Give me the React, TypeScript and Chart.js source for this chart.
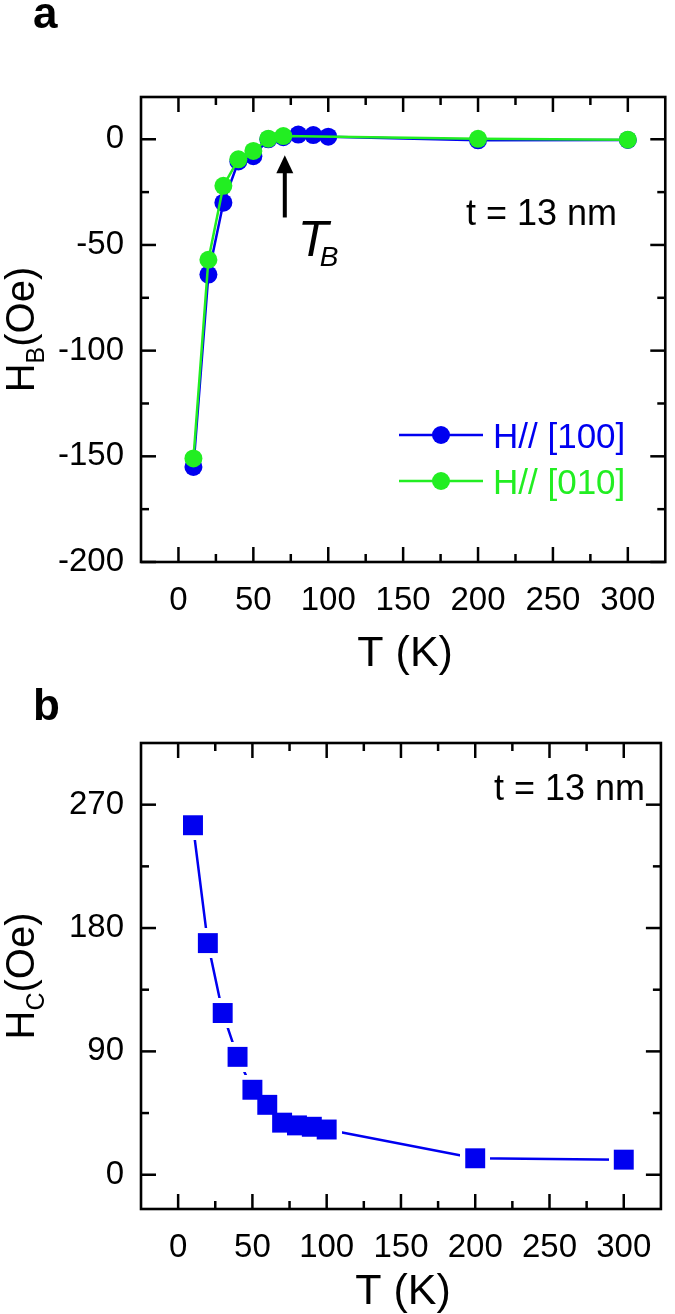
import React, { useEffect, useRef } from 'react';
import { Chart, registerables } from 'chart.js';

Chart.register(...registerables);

const FONT = "'Liberation Sans', Arial, Helvetica, sans-serif";
const BLUE = '#0000f0';
const GREEN = '#22ee22';

// ---------- Panel a data ----------
const seriesLabelsA = ['H// [100]', 'H// [010]'];
const tempA100 = [10, 20, 30, 40, 50, 60, 70, 80, 90, 100, 200, 300];
const hb100 = [-155, -64, -30, -10.5, -8, 0, 1, 2.2, 2, 1.2, -0.5, -0.3];
const tempA010 = [10, 20, 30, 40, 50, 60, 70, 200, 300];
const hb010 = [-151, -57, -22, -9.5, -5.5, 0.3, 1.5, 0.2, -0.2];

// ---------- Panel b data ----------
const tempB = [10, 20, 30, 40, 50, 60, 70, 80, 90, 100, 200, 300];
const hc = [255, 169, 118, 86, 62, 51, 38, 36, 35, 33, 12, 11];

// ---------- Tick values ----------
const tempTicks = [0, 50, 100, 150, 200, 250, 300];
const tempMinor = [25, 75, 125, 175, 225, 275];
const hbTicks = [-200, -150, -100, -50, 0];
const hbMinor = [-175, -125, -75, -25];
const hcTicks = [0, 90, 180, 270];
const hcMinor = [45, 135, 225];

// Annotation (blocking temperature arrow), in data units
const TB_T = 71;
const TB_ARROW_TOP = -7.5;
const TB_ARROW_BOTTOM = -37;

const W = 675;
const HA = 680;
const HB = 634;

function framePlugin(xMajor: number[], xMinor: number[], yMajor: number[], yMinor: number[]) {
  return {
    id: 'frame',
    afterDraw(chart: any) {
      const { ctx, chartArea: a, scales } = chart;
      const xs = scales.x;
      const ys = scales.y;
      ctx.save();
      ctx.strokeStyle = '#000';
      ctx.lineWidth = 2.5;
      ctx.lineCap = 'butt';
      const seg = (x1: number, y1: number, x2: number, y2: number) => {
        ctx.beginPath();
        ctx.moveTo(x1, y1);
        ctx.lineTo(x2, y2);
        ctx.stroke();
      };
      const xt = (vals: number[], len: number) =>
        vals.forEach((v) => {
          const p = xs.getPixelForValue(v);
          seg(p, a.bottom, p, a.bottom - len);
          seg(p, a.top, p, a.top + len);
        });
      const yt = (vals: number[], len: number) =>
        vals.forEach((v) => {
          const p = ys.getPixelForValue(v);
          seg(a.left, p, a.left + len, p);
          seg(a.right, p, a.right - len, p);
        });
      xt(xMajor, 15);
      xt(xMinor, 8);
      yt(yMajor, 15);
      yt(yMinor, 8);
      ctx.lineWidth = 2.6;
      ctx.strokeRect(a.left, a.top, a.right - a.left, a.bottom - a.top);
      ctx.restore();
    },
  };
}

function drawYTitle(ctx: any, main: string, sub: string, rest: string, cx: number, cy: number, size: number) {
  ctx.save();
  ctx.translate(cx, cy);
  ctx.rotate(-Math.PI / 2);
  ctx.fillStyle = '#000';
  ctx.textBaseline = 'alphabetic';
  ctx.textAlign = 'left';
  const f = `${size}px ${FONT}`;
  const fs = `${Math.round(size * 0.62)}px ${FONT}`;
  ctx.font = f;
  const w1 = ctx.measureText(main).width;
  const w3 = ctx.measureText(rest).width;
  ctx.font = fs;
  const w2 = ctx.measureText(sub).width;
  let x = -(w1 + w2 + w3) / 2;
  ctx.font = f;
  ctx.fillText(main, x, 0);
  x += w1;
  ctx.font = fs;
  ctx.fillText(sub, x, size * 0.24);
  x += w2;
  ctx.font = f;
  ctx.fillText(rest, x, 0);
  ctx.restore();
}

function text(ctx: any, s: string, x: number, y: number, font: string, color = '#000', align = 'left') {
  ctx.save();
  ctx.font = font;
  ctx.fillStyle = color;
  ctx.textAlign = align;
  ctx.textBaseline = 'alphabetic';
  ctx.fillText(s, x, y);
  ctx.restore();
}

const decorA = {
  id: 'decorA',
  afterDraw(chart: any) {
    const { ctx, chartArea: a, scales } = chart;
    text(ctx, 'a', 33, 28, `bold 44px ${FONT}`);
    drawYTitle(ctx, 'H', 'B', '(Oe)', 34, (a.top + a.bottom) / 2, 40);
    text(ctx, 'T (K)', (a.left + a.right) / 2 + 2, 666, `43px ${FONT}`, '#000', 'center');
    text(ctx, 't = 13 nm', 466, 225, `36px ${FONT}`);
    // legend
    chart.data.datasets.forEach((ds: any, i: number) => {
      const y = 435 + i * 46;
      ctx.save();
      ctx.strokeStyle = ds.borderColor;
      ctx.lineWidth = 2.5;
      ctx.beginPath();
      ctx.moveTo(399, y);
      ctx.lineTo(483, y);
      ctx.stroke();
      ctx.fillStyle = ds.borderColor;
      ctx.beginPath();
      ctx.arc(441, y, 9, 0, Math.PI * 2);
      ctx.fill();
      ctx.restore();
      text(ctx, ds.label, 493, y + 13, `35px ${FONT}`, ds.borderColor);
    });
    // T_B arrow
    const ax = scales.x.getPixelForValue(TB_T);
    const yTip = scales.y.getPixelForValue(TB_ARROW_TOP);
    const yBot = scales.y.getPixelForValue(TB_ARROW_BOTTOM);
    ctx.save();
    ctx.fillStyle = '#000';
    ctx.fillRect(ax - 2, yTip + 15, 4, yBot - yTip - 15);
    ctx.beginPath();
    ctx.moveTo(ax, yTip);
    ctx.lineTo(ax - 8.5, yTip + 18);
    ctx.lineTo(ax + 8.5, yTip + 18);
    ctx.closePath();
    ctx.fill();
    ctx.restore();
    text(ctx, 'T', ax + 13, yBot + 39, `italic 50px ${FONT}`);
    text(ctx, 'B', ax + 35, yBot + 49, `italic 28px ${FONT}`);
  },
};

const decorB = {
  id: 'decorB',
  afterDraw(chart: any) {
    const { ctx, chartArea: a } = chart;
    text(ctx, 'b', 33, 40, `bold 44px ${FONT}`);
    drawYTitle(ctx, 'H', 'C', '(Oe)', 34, (a.top + a.bottom) / 2, 40);
    text(ctx, 'T (K)', (a.left + a.right) / 2 + 2, 624, `43px ${FONT}`, '#000', 'center');
    text(ctx, 't = 13 nm', 494, 120, `36px ${FONT}`);
  },
};

const gapPlugin = {
  id: 'gap',
  afterDatasetDraw(chart: any, args: any) {
    if (args.index !== 0) return;
    const h = 15;
    args.meta.data.forEach((pt: any) => chart.ctx.clearRect(pt.x - h, pt.y - h, 2 * h, 2 * h));
  },
};

function axisX(height: number) {
  return {
    type: 'linear',
    min: -25,
    max: 325,
    afterBuildTicks: (s: any) => {
      s.ticks = tempTicks.map((v) => ({ value: v }));
    },
    afterFit: (s: any) => {
      s.height = height;
    },
    grid: { display: false, drawTicks: false },
    border: { display: false },
    ticks: {
      font: { family: FONT, size: 33 },
      color: '#000',
      padding: 19,
      maxRotation: 0,
      autoSkip: false,
      callback: (v: any) => String(v),
    },
  };
}

function axisY(min: number, max: number, ticks: number[]) {
  return {
    type: 'linear',
    min,
    max,
    afterBuildTicks: (s: any) => {
      s.ticks = ticks.map((v) => ({ value: v }));
    },
    afterFit: (s: any) => {
      s.width = 141;
    },
    grid: { display: false, drawTicks: false },
    border: { display: false },
    ticks: {
      font: { family: FONT, size: 33 },
      color: '#000',
      padding: 17,
      autoSkip: false,
      callback: (v: any) => String(v),
    },
  };
}

function configA(): any {
  return {
    type: 'line',
    data: {
      datasets: [
        {
          label: seriesLabelsA[0],
          data: tempA100.map((t, i) => ({ x: t, y: hb100[i] })),
          borderColor: BLUE,
          backgroundColor: BLUE,
          pointBackgroundColor: BLUE,
          pointBorderWidth: 0,
          pointRadius: 9,
          borderWidth: 2.5,
          order: 1,
        },
        {
          label: seriesLabelsA[1],
          data: tempA010.map((t, i) => ({ x: t, y: hb010[i] })),
          borderColor: GREEN,
          backgroundColor: GREEN,
          pointBackgroundColor: GREEN,
          pointBorderWidth: 0,
          pointRadius: 9,
          borderWidth: 2.5,
          order: 0,
        },
      ],
    },
    options: {
      responsive: false,
      devicePixelRatio: 1,
      animation: false,
      layout: { padding: { top: 97, right: 4, left: 0, bottom: 0 } },
      plugins: { legend: { display: false }, tooltip: { enabled: false } },
      scales: { x: axisX(HA - 562), y: axisY(-200, 20, hbTicks) },
    },
    plugins: [framePlugin(tempTicks, tempMinor, hbTicks, hbMinor), decorA],
  };
}

function configB(): any {
  const pts = tempB.map((t, i) => ({ x: t, y: hc[i] }));
  return {
    type: 'line',
    data: {
      datasets: [
        {
          label: 'line',
          data: pts,
          borderColor: BLUE,
          borderWidth: 2.5,
          pointRadius: 0,
          order: 2,
        },
        {
          label: 'Hc',
          data: pts,
          showLine: false,
          borderColor: BLUE,
          pointStyle: 'rect',
          pointBackgroundColor: BLUE,
          pointBorderWidth: 0,
          pointRadius: 14.1,
          order: 1,
        },
      ],
    },
    options: {
      responsive: false,
      devicePixelRatio: 1,
      animation: false,
      layout: { padding: { top: 63, right: 4, left: 0, bottom: 0 } },
      plugins: { legend: { display: false }, tooltip: { enabled: false } },
      scales: { x: axisX(HB - 529), y: axisY(-25, 315, hcTicks) },
    },
    plugins: [framePlugin(tempTicks, tempMinor, hcTicks, hcMinor), gapPlugin, decorB],
  };
}

function ChartCanvas({ width, height, top, makeConfig }: any) {
  const ref = useRef<HTMLCanvasElement | null>(null);
  useEffect(() => {
    const c = new Chart(ref.current as HTMLCanvasElement, makeConfig());
    return () => c.destroy();
  }, []);
  return (
    <canvas
      ref={ref}
      width={width}
      height={height}
      style={{ position: 'absolute', left: 0, top, width, height, display: 'block' }}
    />
  );
}

export default function App() {
  return (
    <div style={{ position: 'absolute', left: 0, top: 0, width: W, height: HA + HB, background: '#fff' }}>
      <ChartCanvas width={W} height={HA} top={0} makeConfig={configA} />
      <ChartCanvas width={W} height={HB} top={HA} makeConfig={configB} />
    </div>
  );
}
